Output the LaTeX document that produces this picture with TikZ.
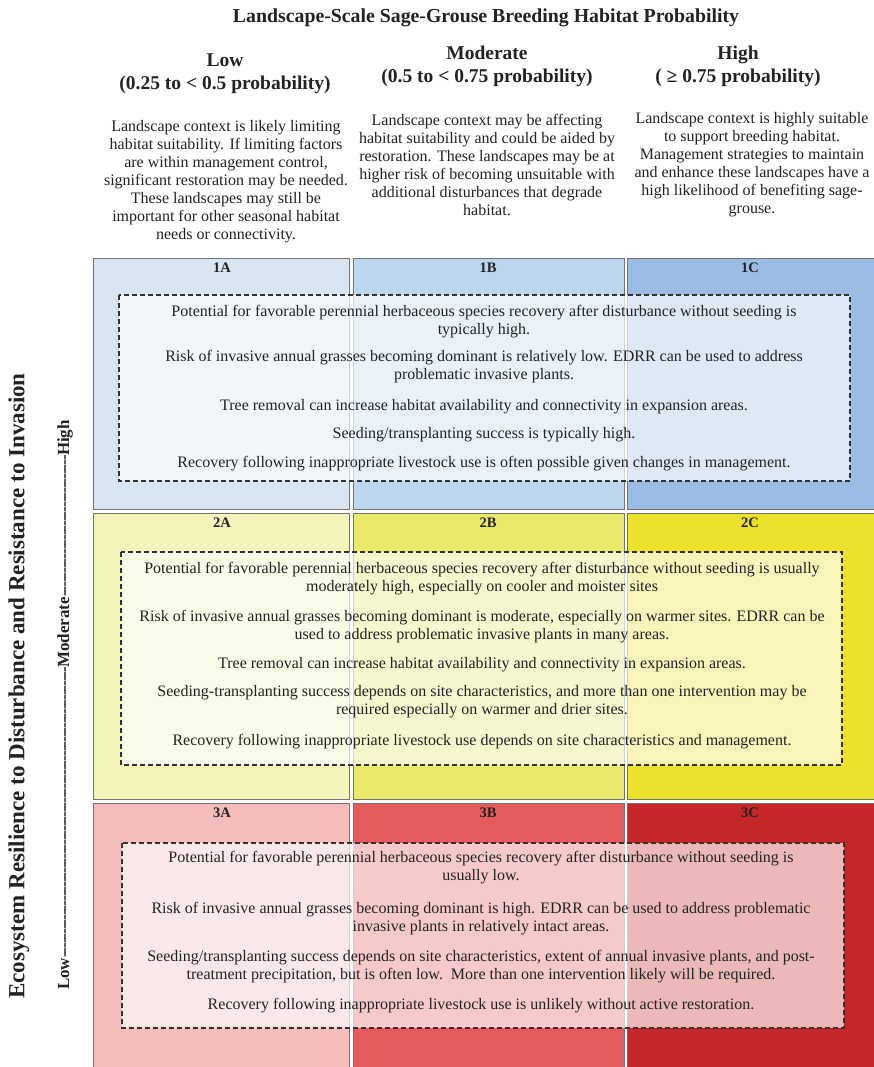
\documentclass[tikz,border=0pt]{standalone}
\usepackage{fontspec}
\setmainfont{Liberation Serif}
\definecolor{cA1}{HTML}{D8E6F3}
\definecolor{cB1}{HTML}{BCD6EE}
\definecolor{cC1}{HTML}{9BBDE3}
\definecolor{cA2}{HTML}{F4F4BB}
\definecolor{cB2}{HTML}{E9E96A}
\definecolor{cC2}{HTML}{EDE22B}
\definecolor{cA3}{HTML}{F5BCBC}
\definecolor{cB3}{HTML}{E55B5B}
\definecolor{cC3}{HTML}{C52628}
\definecolor{txt}{HTML}{222222}
\begin{document}
\begin{tikzpicture}[x=1pt,y=-1pt,
  cell/.style={draw=black!55, line width=0.9pt},
  dbox/.style={draw=black!80, line width=1.1pt, dash pattern=on 5pt off 3pt, fill=white, fill opacity=0.68},
  body/.style={font=\fontsize{16}{18}\selectfont, align=center, text=txt, inner sep=0pt},
  lab/.style={font=\bfseries\fontsize{14.5}{14.5}\selectfont, text=txt, inner sep=0pt},
  colhead/.style={font=\bfseries\fontsize{19.5}{23}\selectfont, align=center, text=txt, inner sep=0pt},
  coldesc/.style={font=\fontsize{16}{18}\selectfont, align=center, text=txt, inner sep=0pt}]
\useasboundingbox (0,0) rectangle (873,1067);
\fill[white] (0,0) rectangle (873,1067);

% title
\node[font=\bfseries\fontsize{19.8}{19.8}\selectfont, text=txt, inner sep=0pt] (title) at (486,18) {Landscape-Scale Sage-Grouse Breeding Habitat Probability};

% column headers
\node[colhead] (hLow) at (225,74) {Low\\(0.25 to < 0.5 probability)};
\node[colhead] (hMod) at (487,66) {Moderate\\(0.5 to < 0.75 probability)};
\node[colhead] (hHigh) at (738,66) {High\\( ≥ 0.75 probability)};

\node[coldesc] (dLow) at (226,182) {Landscape context is likely limiting\\habitat suitability. If limiting factors\\are within management control,\\significant restoration may be needed.\\These landscapes may still be\\important for other seasonal habitat\\needs or connectivity.};
\node[coldesc] (dMod) at (487,165) {Landscape context may be affecting\\habitat suitability and could be aided by\\restoration. These landscapes may be at\\higher risk of becoming unsuitable with\\additional disturbances that degrade\\habitat.};
\node[coldesc] (dHigh) at (752,165) {Landscape context is highly suitable\\to support breeding habitat.\\Management strategies to maintain\\and enhance these landscapes have a\\high likelihood of benefiting sage-\\grouse.};

% y axis labels
\node[rotate=90, font=\bfseries\fontsize{23}{23}\selectfont, text=txt, inner sep=0pt] (ylab) at (19,686) {Ecosystem Resilience to Disturbance and Resistance to Invasion};
\node[rotate=90, font=\bfseries\fontsize{17}{17}\selectfont, text=txt, inner sep=0pt] (yscale) at (65,705) {Low\xleaders\hbox{-\kern-1pt}\hskip 290pt Moderate\xleaders\hbox{-\kern-1pt}\hskip 141pt High};

% cells
\draw[cell, fill=cA1] (93,258) rectangle (349,509);
\draw[cell, fill=cB1] (353,258) rectangle (624,509);
\draw[cell, fill=cC1] (627,258) rectangle (878,509);
\draw[cell, fill=cA2] (93,513) rectangle (349,799);
\draw[cell, fill=cB2] (353,513) rectangle (624,799);
\draw[cell, fill=cC2] (627,513) rectangle (878,799);
\draw[cell, fill=cA3] (93,803) rectangle (349,1072);
\draw[cell, fill=cB3] (353,803) rectangle (624,1072);
\draw[cell, fill=cC3] (627,803) rectangle (878,1072);

% cell labels
\node[lab] (l1A) at (222,268) {1A};
\node[lab] (l1B) at (488,268) {1B};
\node[lab] (l1C) at (750,268) {1C};
\node[lab] (l2A) at (222,523) {2A};
\node[lab] (l2B) at (488,523) {2B};
\node[lab] (l2C) at (750,523) {2C};
\node[lab] (l3A) at (222,813) {3A};
\node[lab] (l3B) at (488,813) {3B};
\node[lab] (l3C) at (750,813) {3C};

% dashed boxes
\draw[dbox] (119,295) rectangle (850,481);
\draw[dbox] (121,552) rectangle (842,765);
\draw[dbox] (122,843) rectangle (844,1028);

% row 1 text
\node[body] (r1a) at (484,322) {Potential for favorable perennial herbaceous species recovery after disturbance without seeding is\\typically high.};
\node[body] (r1b) at (484,367) {Risk of invasive annual grasses becoming dominant is relatively low. EDRR can be used to address\\problematic invasive plants.};
\node[body] (r1c) at (484,407) {Tree removal can increase habitat availability and connectivity in expansion areas.};
\node[body] (r1d) at (484,435) {Seeding/transplanting success is typically high.};
\node[body] (r1e) at (484,464) {Recovery following inappropriate livestock use is often possible given changes in management.};

% row 2 text
\node[body] (r2a) at (482,579) {Potential for favorable perennial herbaceous species recovery after disturbance without seeding is usually\\moderately high, especially on cooler and moister sites};
\node[body] (r2b) at (482,627) {Risk of invasive annual grasses becoming dominant is moderate, especially on warmer sites. EDRR can be\\used to address problematic invasive plants in many areas.};
\node[body] (r2c) at (482,665) {Tree removal can increase habitat availability and connectivity in expansion areas.};
\node[body] (r2d) at (482,701.5) {Seeding-transplanting success depends on site characteristics, and more than one intervention may be\\required especially on warmer and drier sites.};
\node[body] (r2e) at (482,742) {Recovery following inappropriate livestock use depends on site characteristics and management.};

% row 3 text
\node[body] (r3a) at (481,868) {Potential for favorable perennial herbaceous species recovery after disturbance without seeding is\\usually low.};
\node[body] (r3b) at (481,919) {Risk of invasive annual grasses becoming dominant is high. EDRR can be used to address problematic\\invasive plants in relatively intact areas.};
\node[body] (r3c) at (481,967) {Seeding/transplanting success depends on site characteristics, extent of annual invasive plants, and post-\\treatment precipitation, but is often low.\ \ More than one intervention likely will be required.};
\node[body] (r3d) at (481,1006) {Recovery following inappropriate livestock use is unlikely without active restoration.};
\end{tikzpicture}
\end{document}
